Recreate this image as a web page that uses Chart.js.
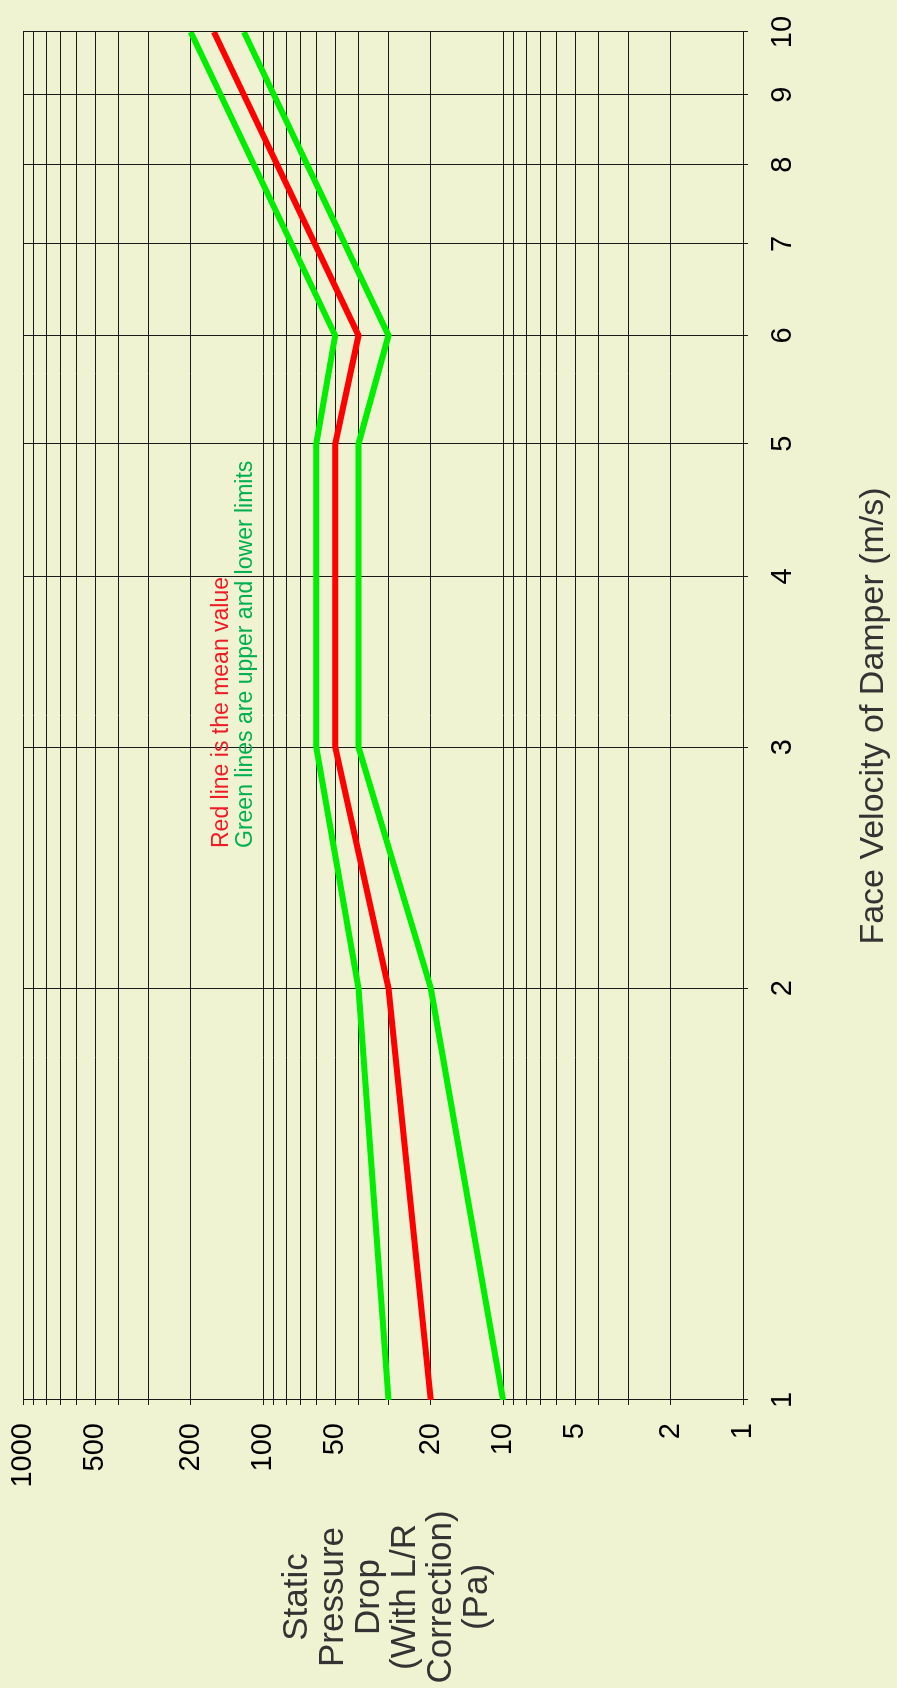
<!DOCTYPE html>
<html lang="en">
<head>
    <meta charset="UTF-8">
    <title>Static Pressure Drop vs Face Velocity</title>
    <script src="https://cdn.jsdelivr.net/npm/chart.js@4.4.0/dist/chart.umd.min.js"></script>
    <style>
        html, body { margin: 0; padding: 0; background: #eff3d1; overflow: hidden; }
        body { width: 897px; height: 1688px; position: relative; }
        /* chart is laid out landscape, then turned a quarter turn counter-clockwise */
        #wrap {
            position: absolute; left: 0; top: 0;
            width: 1688px; height: 897px;
            transform-origin: 0 0;
            transform: translateY(1688px) rotate(-90deg);
            background: #eff3d1;
            font-family: "Liberation Sans", Arial, sans-serif;
        }
        #chart { position: absolute; left: 0; top: 0; }
        #ytitle {
            position: absolute; left: 0; top: 277px; width: 182px;
            text-align: center; font-size: 35px; line-height: 36px; color: #333;
        }
        #note {
            position: absolute; left: 840px; top: 208px;
            font-size: 23px; line-height: 24px; white-space: nowrap;
        }
    </style>
</head>
<body>
    <div id="wrap">
        <canvas id="chart" width="1688" height="897"></canvas>
        <div id="ytitle">Static<br>Pressure<br>Drop<br>(With L/R<br>Correction)<br>(Pa)</div>
        <div id="note">
            <div style="color:#ee1c25">Red line is the mean value</div>
            <div style="color:#00b050">Green lines are upper and lower limits</div>
        </div>
    </div>

    <script>
        // data
        const velocity = [1, 2, 3, 5, 6, 10];
        const meanPressure = [20, 30, 50, 50, 40, 160];
        const upperPressure = [30, 40, 60, 60, 50, 200];
        const lowerPressure = [10, 20, 40, 40, 30, 120];

        const velocityTicks = [1, 2, 3, 4, 5, 6, 7, 8, 9, 10];
        const pressureTicks = [1, 2, 3, 4, 5, 6, 7, 8, 9,
            10, 20, 30, 40, 50, 60, 70, 80, 90,
            100, 200, 300, 400, 500, 600, 700, 800, 900, 1000];
        const pressureLabels = [1, 2, 5, 10, 20, 50, 100, 200, 500, 1000];

        const font = "'Liberation Sans', Arial, sans-serif";
        const pts = arr => velocity.map((v, i) => ({ x: v, y: arr[i] }));

        function series(label, arr, color) {
            return {
                label: label,
                data: pts(arr),
                borderColor: color,
                borderWidth: 6,
                pointRadius: 0,
                tension: 0,
                fill: false
            };
        }

        // stop the scales from pushing the plot in to make room for end labels
        function noEdgePadding(s) {
            s.paddingTop = 0; s.paddingBottom = 0;
            s.paddingLeft = 0; s.paddingRight = 0;
        }

        new Chart(document.getElementById('chart'), {
            type: 'line',
            data: {
                datasets: [
                    series('Upper limit', upperPressure, '#00ee00'),
                    series('Lower limit', lowerPressure, '#00ee00'),
                    series('Mean', meanPressure, '#ff0000')
                ]
            },
            options: {
                responsive: false,
                animation: false,
                devicePixelRatio: 1,
                layout: { autoPadding: false, padding: { top: 23, right: 32, left: 0, bottom: 0 } },
                plugins: { legend: { display: false }, tooltip: { enabled: false } },
                scales: {
                    x: {
                        type: 'logarithmic',
                        position: 'bottom',
                        min: 1, max: 10,
                        afterBuildTicks: s => { s.ticks = velocityTicks.map(v => ({ value: v })); },
                        afterFit: s => { s.height = 154; noEdgePadding(s); },
                        ticks: {
                            autoSkip: false, maxRotation: 0, minRotation: 0,
                            padding: 18, color: '#000',
                            font: { family: font, size: 29 },
                            callback: v => String(v)
                        },
                        grid: { color: '#1a1a1a', lineWidth: 1, tickLength: 5 },
                        border: { color: '#1a1a1a' },
                        title: {
                            display: true,
                            text: 'Face Velocity of Damper (m/s)',
                            color: '#333',
                            font: { family: font, size: 34 },
                            padding: { top: 0, bottom: 3 }
                        }
                    },
                    y: {
                        type: 'logarithmic',
                        position: 'left',
                        min: 1, max: 1000,
                        afterBuildTicks: s => { s.ticks = pressureTicks.map(v => ({ value: v })); },
                        afterFit: s => { s.width = 288; noEdgePadding(s); },
                        ticks: {
                            autoSkip: false, padding: 18, color: '#000',
                            font: { family: font, size: 29 },
                            callback: v => pressureLabels.includes(v) ? String(v) : ''
                        },
                        grid: { color: '#1a1a1a', lineWidth: 1, tickLength: 5 },
                        border: { color: '#1a1a1a' }
                    }
                }
            }
        });
    </script>
</body>
</html>
